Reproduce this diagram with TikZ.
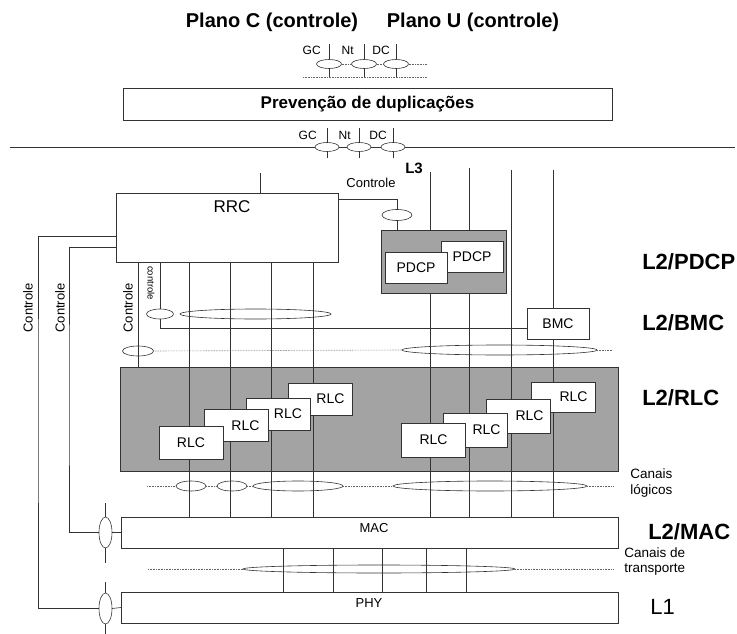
\documentclass[tikz,border=0pt]{standalone}
\usepackage{fontspec}
\setmainfont{Liberation Sans}
\usetikzlibrary{shapes.geometric}
\newcommand{\fs}[1]{\fontsize{#1}{#1}\selectfont}

\begin{document}
\begin{tikzpicture}[x=1pt, y=-1pt, line width=0.6pt, draw=black!80,
  blk/.style={draw, fill=white, inner sep=0pt, outer sep=0pt, font=\fs{13}},
  shade/.style={draw, fill=black!36, inner sep=0pt, outer sep=0pt},
  rlcbox/.style={blk, minimum width=64pt, minimum height=32pt},
  chan/.style={draw, ellipse, inner sep=0pt, outer sep=0pt, minimum height=10pt},
  sap/.style={draw, ellipse, inner sep=0pt, outer sep=0pt, minimum width=25pt, minimum height=9pt},
  lbl/.style={font=\fs{13}, inner sep=0pt},
  tiny/.style={font=\fs{12}, inner sep=0pt, anchor=east},
  layer/.style={font=\bfseries\fs{22}, anchor=west, inner sep=0pt},
  dots/.style={densely dotted, draw=black!60}]
%
\useasboundingbox (0,0) rectangle (737,634);
%
% titles and duplicate prevention
\node (tc) [font=\bfseries\fs{20}, inner sep=0pt] at (272,22) {Plano C (controle)};
\node (tu) [font=\bfseries\fs{20}, inner sep=0pt] at (473,22) {Plano U (controle)};
\node (s1) [sap] at (329,64) {};
\node (s2) [sap] at (364,64) {};
\node (s3) [sap] at (396,64) {};
\node (gc1) [tiny] at (321,50) {GC};
\node (nt1) [tiny] at (354,50) {Nt};
\node (dc1) [tiny] at (390,50) {DC};
\coordinate (sl) at (303,64);
\coordinate (sr) at (427,64);
\coordinate (bl) at (303,77);
\coordinate (br) at (427,77);
\draw[dots] (s1.east) -- (s2.west);
\draw[dots] (s2.east) -- (s3.west);
\draw[dots] (s3.east) -- (sr);
\draw[dots] (bl) -- (br);
\foreach \s in {s1,s2,s3} {
  \draw (\s.north) -- ++(0,-15);
  \draw (\s.south) -- (\s.south |- bl);
}
\node (prev) [blk, minimum width=489pt, minimum height=32pt, font=\bfseries\fs{17}] at (367.5,104) {Prevenção de duplicações};
%
\coordinate (hl) at (10,147);
\coordinate (hr) at (735,147);
\node (t1) [sap, minimum width=24pt] at (327,147) {};
\node (t2) [sap, minimum width=24pt] at (359,147) {};
\node (t3) [sap, minimum width=24pt] at (393,147) {};
\node (gc2) [tiny] at (317,135) {GC};
\node (nt2) [tiny] at (351,135) {Nt};
\node (dc2) [tiny] at (387,135) {DC};
\draw (hl) -- (t1.west);
\draw (t1.east) -- (t2.west);
\draw (t2.east) -- (t3.west);
\draw (t3.east) -- (hr);
\foreach \s in {t1,t2,t3} {
  \draw (\s.north) -- ++(0,-15);
  \draw (\s.south) -- ++(0,6);
}
%
% L3 / RRC
\node (l3) [font=\bfseries\fs{15}, inner sep=0pt] at (414,168) {L3};
\node (rrc) [blk, minimum width=222pt, minimum height=69pt] at (227,227.5) {};
\node (rrctxt) [font=\fs{17}, inner sep=0pt] at (232,207) {RRC};
\coordinate (rrctop) at (260,173);
\draw (rrctop) -- (rrctop |- rrc.north);
\node (ctlu) [chan, minimum width=30pt, minimum height=11pt] at (397,215) {};
\node (ctlutxt) [lbl] at (371,183) {Controle};
\draw ([yshift=-6pt]rrc.north east) -| (ctlu.north);
%
% PDCP
\node (pdcp) [shade, minimum width=125pt, minimum height=63pt] at (443.5,261.5) {};
\draw (ctlu.south) -- (ctlu.south |- pdcp.north);
\node (pdcpb) [blk, minimum width=62pt, minimum height=31pt, font=\fs{14}] at (472,256.5) {PDCP};
\node (pdcpa) [blk, minimum width=62pt, minimum height=31pt, font=\fs{14}] at (416,267.5) {PDCP};
\node (bmc) [blk, minimum width=62pt, minimum height=31pt, font=\fs{14}] at (558,323.5) {BMC};
%
% RLC layer
\node (rlc) [shade, minimum width=498pt, minimum height=104pt] at (369,419) {};
\node (mac) [blk, minimum width=497pt, minimum height=31pt] at (369.5,532.5) {};
\node (phy) [blk, minimum width=497pt, minimum height=31pt] at (369.5,607.5) {};
\node (mactxt) [lbl] at (374,528) {MAC};
\node (phytxt) [lbl] at (369,603) {PHY};
%
% user plane lines
\coordinate (u1) at (430,172);
\coordinate (u2) at (469,168);
\coordinate (u3) at (511,170);
\coordinate (u4) at (553,170);
\coordinate (c1) at (189,0);
\coordinate (c2) at (230,0);
\coordinate (c3) at (271,0);
\coordinate (c4) at (313,0);
\draw (u1) -- (u1 |- pdcp.north);
\draw (u2) -- (u2 |- pdcp.north);
\draw (u1 |- pdcp.south) -- (u1 |- mac.north);
\draw (u2 |- pdcp.south) -- (u2 |- mac.north);
\draw (u3) -- (u3 |- mac.north);
\draw (u4) -- (u4 |- bmc.north);
\draw (u4 |- bmc.south) -- (u4 |- mac.north);
\foreach \c in {c1,c2,c3,c4}
  \draw (\c |- rrc.south) -- (\c |- mac.north);
%
\node (rlc4) [rlcbox, label={[font=\fs{14}, xshift=10pt]center:RLC}] at (320.5,399) {};
\node (rlc3) [rlcbox, label={[font=\fs{14}, xshift=10pt]center:RLC}] at (278,414) {};
\node (rlc2) [rlcbox, label={[font=\fs{14}, xshift=9pt]center:RLC}] at (236.5,425.5) {};
\node (rlc1) [rlcbox, minimum height=33pt, label={[font=\fs{14}]center:RLC}] at (191,442.5) {};
\node (rlc8) [rlcbox, minimum height=30pt, label={[font=\fs{14}, xshift=10pt]center:RLC}] at (563.5,397) {};
\node (rlc7) [rlcbox, minimum height=34pt, label={[font=\fs{14}, xshift=11pt]center:RLC}] at (518.5,416) {};
\node (rlc6) [rlcbox, minimum height=34pt, label={[font=\fs{14}, xshift=11pt]center:RLC}] at (475.5,430) {};
\node (rlc5) [rlcbox, minimum height=34pt, label={[font=\fs{14}]center:RLC}] at (433.5,440) {};
%
% control from RRC
\node (ctlb) [chan, minimum width=27pt] at (160,314) {};
\node (bch) [chan, minimum width=151pt] at (255.5,314) {};
\draw (ctlb.north |- rrc.south) -- (ctlb.north);
\draw (ctlb.south) |- ([yshift=-5pt]bmc.west);
\node (ctlbtxt) [font=\fs{9.5}, inner sep=0pt, rotate=-90] at (151,283) {controle};
\node (ctlr) [chan, minimum width=31pt] at (138,351) {};
\draw (ctlr |- rrc.south) -- (ctlr |- rlc.north);
\node (ctlrtxt) [lbl, rotate=90] at (128,308) {Controle};
\node (uch) [chan, minimum width=195pt] at (499.5,350) {};
\coordinate (ue) at (613,350);
\draw[dots] (ctlr.east) -- (uch.west);
\draw[dots] (uch.east) -- (ue);
%
% logical channels
\node (la) [chan, minimum width=30pt] at (191,486) {};
\node (lb) [chan, minimum width=30pt] at (232,486) {};
\node (lc) [chan, minimum width=90pt] at (298,486) {};
\node (ld) [chan, minimum width=194pt] at (490,486) {};
\coordinate (ls) at (147,486);
\coordinate (le) at (613,486);
\draw[dots] (ls) -- (la.west);
\draw[dots] (la.east) -- (lb.west);
\draw[dots] (lb.east) -- (lc.west);
\draw[dots] (lc.east) -- (ld.west);
\draw[dots] (ld.east) -- (le);
\node (logtxt) [inner sep=0pt, align=left, anchor=west, font={\fontsize{13.5}{16}\selectfont}] at (630,483) {Canais\\lógicos};
%
% transport channels
\foreach \x in {283,333,382,426,466}
  \draw (mac.south -| \x,0) -- (phy.north -| \x,0);
\node (tch) [chan, minimum width=272pt, minimum height=8pt] at (379,569) {};
\coordinate (ts) at (148,569);
\coordinate (te) at (613,569);
\draw[dots] (ts) -- (tch.west);
\draw[dots] (tch.east) -- (te);
\node (trtxt) [inner sep=0pt, align=left, anchor=west, font={\fontsize{13.5}{15}\selectfont}] at (624,562) {Canais de\\transporte};
%
% control to MAC and PHY
\node (emac) [chan, minimum width=13pt, minimum height=31pt] at (105.5,532.5) {};
\node (ephy) [chan, minimum width=13pt, minimum height=31pt] at (105.5,608.5) {};
\coordinate (ki) at (69,400);
\coordinate (ko) at (38,400);
\draw ([yshift=-19.5pt]rrc.west) -| (ki) |- (emac.west);
\draw ([yshift=-8.5pt]rrc.west) -| (ko) |- (ephy.west);
\draw (emac.east) -- (mac.west);
\draw (ephy.east) -- (phy.west);
\draw (emac.north) -- ++(0,-14);
\draw (emac.south) -- ++(0,15);
\draw (ephy.north) -- ++(0,-11);
\draw (ephy.south) -- ++(0,10);
\node (kotxt) [lbl, rotate=90] at (28,308) {Controle};
\node (kitxt) [lbl, rotate=90] at (60,308) {Controle};
%
% layer names
\node (lpdcp) [layer] at (642,262) {L2/PDCP};
\node (lbmc) [layer] at (642,323) {L2/BMC};
\node (lrlc) [layer] at (642,398) {L2/RLC};
\node (lmac) [layer] at (648,532) {L2/MAC};
\node (lone) [layer, font=\fs{22}] at (650,607) {L1};
\end{tikzpicture}
\end{document}
